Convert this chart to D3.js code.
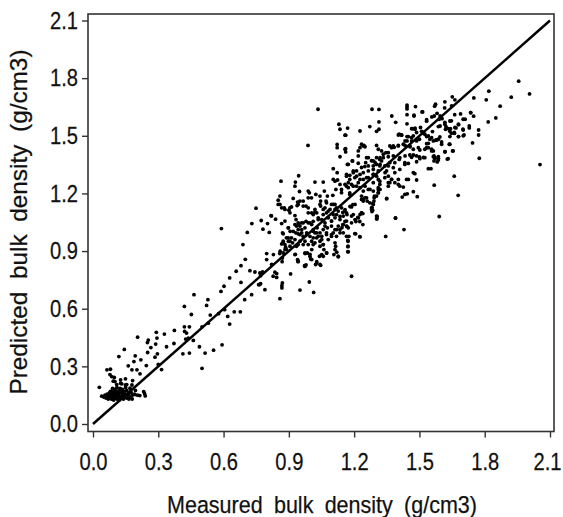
<!DOCTYPE html>
<html>
<head>
<meta charset="utf-8">
<style>
html, body { margin: 0; padding: 0; background: #fff; }
svg { display: block; }
text { font-family: "Liberation Sans", Arial, sans-serif; fill: #111; stroke: #111; stroke-width: 0.25px; }
</style>
<script src="https://cdn.jsdelivr.net/npm/d3@7"></script>
</head>
<body>
<svg id="chart" width="563" height="517"></svg>
<script>
var tickLabels = ['0.0', '0.3', '0.6', '0.9', '1.2', '1.5', '1.8', '2.1'];
var refLine = [0, 2.1];

// measured, predicted, by area of the cloud
var clusterPoints = [[.04,.145],[.05,.14],[.055,.15],[.06,.135],[.065,.155],[.07,.145],[.07,.13],[.075,.16],[.08,.14],[.08,.17],[.085,.15],[.085,.13],[.09,.185],[.09,.16],[.09,.14],[.095,.17],[.095,.125],[.1,.15],[.1,.135],[.1,.18],[.105,.16],[.105,.145],[.11,.19],[.11,.17],[.11,.13],[.115,.155],[.115,.14],[.12,.175],[.12,.16],[.12,.125],[.125,.185],[.125,.145],[.13,.165],[.13,.135],[.135,.15],[.135,.18],[.14,.16],[.14,.13],[.145,.17],[.145,.145],[.15,.19],[.15,.155],[.155,.135],[.155,.175],[.16,.15],[.165,.16],[.165,.13],[.17,.14],[.175,.165],[.18,.15],[.18,.13],[.19,.155],[.195,.175],[.205,.15],[.215,.148],
[.029,.191],[.064,.282],[.08,.285],[.078,.257],[.098,.242],[.093,.223],[.127,.23],[.127,.212],[.149,.235],[.149,.203],[.182,.226],[.179,.203],[.086,.247],[.101,.221],[.109,.205],[.132,.209],[.155,.205],[.17,.186],[.233,.169],[.237,.158],[.24,.146],[.193,.153]];

var lowPoints = [[.119,.351],[.144,.388],[.205,.452],[.162,.303],[.188,.325],[.194,.355],[.179,.282],[.202,.282],[.216,.261],[.22,.334],[.245,.304],[.251,.372],[.25,.424],[.254,.437],[.266,.398],[.288,.416],[.291,.477],[.294,.447],[.285,.348],[.296,.365],[.3,.31],[.315,.283],[.328,.468],[.338,.402],[.374,.487],[.372,.419],[.413,.365],[.443,.369],[.42,.612],[.464,.673],[.452,.57],[.42,.506],[.443,.506],[.421,.482],[.43,.473],[.426,.442],[.438,.447],[.461,.435],[.489,.402],[.501,.29],[.515,.369],[.554,.384],[.593,.412],[.501,.506],[.522,.617],[.528,.647],[.539,.567],[.53,.525],[.588,.69],[.602,.717],[.577,.574],[.605,.595],[.619,.56],[.628,.52],[.649,.584],[.677,.584],[.697,.647],[.729,.673],[.68,.737],[.761,.725],
[.59,1.017],[.628,.76],[.658,.795],[.68,.824],[.7,.857],[.689,.934],[.709,.997],[.73,1.043],[.749,1.123],[.773,1.059],[.781,1.014],[.802,1.043],[.81,.997],[.82,1.083],[.839,1.066],[.721,.798],[.744,.791],[.767,.786],[.779,.791],[.77,.772],[.764,.725],[.77,.73],[.79,.699],[.859,.652],[.836,.79],[.844,.783],[.828,.769],[.844,.763],[.87,.734],[.868,.72],[.868,.708],[.908,.781],[.951,.697],[.994,.739],[1.014,.685],[1.188,.769],[.798,.887],[.798,.856],[.821,.831],[.858,.887],[.869,.845],[.87,.864],[.885,.92],[.867,.937],[.874,.89]];

var midPoints = [[.93,.883],[.94,.856],[.942,.845],[.975,.887],[.985,.89],[.997,.883],[1.0,.859],[.972,.824],[.979,.828],[1.028,.845],[1.023,.83],[1.046,.826],[1.041,.873],[1.058,.873],[1.073,.89],[1.127,.87],[1.173,.896],[1.172,.925],[1.172,.951],[1.165,.977],[1.176,.977],[1.112,.943],[1.115,.925],[1.112,.908],[1.12,.894],[1.107,.882],[1.058,.934],[1.061,.908],[1.043,.925],[.989,.934],[1.005,.908],[.966,.934],[.943,.934],
[.933,1.064],[.943,1.047],[.935,1.03],[.951,1.03],[.959,1.012],[.943,1.012],[.979,1.055],[.997,1.047],[1.012,1.055],[.966,1.047],[1.035,1.073],[1.051,1.064],[1.066,1.047],[1.081,1.073],[1.096,1.056],[1.112,1.073],[1.135,1.064],[1.15,1.082],[1.127,1.03],[1.165,1.099],[1.196,1.09],[.898,1.021],[.906,1.003],[.874,.99],[.889,.969],[.912,.969],[.932,.995],[.951,.986],[.966,.977],[.982,.995],[.997,.977],[1.02,.995],[1.012,1.012],[1.03,1.021],[1.043,.995],[1.058,1.012],[1.077,1.021],[1.096,1.03],[1.112,1.012],[1.135,1.012],[1.15,.995],[1.173,1.021],[1.188,1.047],[1.219,1.073],[1.227,1.09],[1.234,1.099],[.874,.943],[.898,.951],[.917,.943],[.935,.925],[.905,.925],[.889,.908],[.974,.951],[1.005,.951],[1.028,.969],[1.051,.96],[1.012,.934],[1.035,.977],[1.073,.986],[1.096,.977],[1.119,.977],[1.135,.995],[1.119,1.09],[1.104,1.09],[1.073,1.099],[1.089,1.117],[1.058,1.09],[1.028,1.099],[1.005,1.099],[1.188,1.082],[1.165,1.056],[1.204,1.064],[1.15,1.038],[1.104,.995],[1.165,1.03],
[1.227,.974],[1.207,.99],[1.345,.976],[1.39,1.071],[1.303,1.082],[1.305,1.068],[1.429,1.012],[1.203,.991],[1.226,.975],[1.171,.955],[1.171,.923],[1.171,.897],[1.24,1.095],[1.217,1.075],[1.226,1.054],[1.208,1.054],[1.24,1.038],[1.158,1.054],[1.148,1.038],[1.167,1.028],[1.144,1.022],[1.181,1.132],[1.194,1.142],[1.158,1.116],[1.167,1.09],[1.148,1.101],[1.135,1.08],[1.282,1.127],[1.282,1.106],[1.286,1.148],
[.851,1.143],[.867,1.125],[.882,1.117],[.905,1.125],[.905,1.099],[.928,1.085],[.943,1.143],[.966,1.134],[.989,1.099],[1.012,1.09],[1.02,1.103],[1.043,1.143],[1.066,1.125],[1.081,1.108],[1.073,1.151],[1.104,1.143],[.818,1.085],[.882,1.056],[.867,1.043],[.871,.995],[.897,1.021],[.928,1.038],[.943,1.038],[.959,1.047],[.974,1.021],[.989,1.047],[1.005,1.038],[1.035,1.064],[1.066,1.03],[1.096,1.056],[.92,1.003],[.943,.99],[.959,.995],[.982,.986],[1.012,1.003],[1.028,.995],[1.051,.977],[1.073,.995],[1.096,.986],[1.12,1.012],[.874,.951],[.882,.934],[.905,.951],[.897,.969],[.928,.96],[.951,.951],[1.012,.969],[1.02,.943],[1.043,.951],[1.058,.934],[1.081,.96],[.829,.882],[.86,.899],[.882,.908],[.928,.882],[.974,.89],[.997,.873],[1.005,.856],[.943,.847],[1.051,.882],[1.074,.89],[1.028,.838],[1.043,.83],[1.127,.873],[.974,.82]];

var upperPoints = [[1.034,1.638],[.988,1.45],[1.122,1.455],[1.122,1.438],[1.135,1.391],[1.161,1.433],[1.161,1.416],[1.161,1.503],[1.135,1.534],[1.13,1.56],[1.17,1.54],
[.864,1.264],[.945,1.292],[.93,1.259],[.928,1.238],[.949,1.21],[1.02,1.259],[1.058,1.259],[1.104,1.329],[1.122,1.308],[1.104,1.273],[1.112,1.264],[1.124,1.27],[1.173,1.351],[1.191,1.369],[1.219,1.357],[1.253,1.36],[1.165,1.299],[1.18,1.294],[1.196,1.317],[1.173,1.256],[1.165,1.238],[1.188,1.247],[1.211,1.29],[1.227,1.299],[1.135,1.247],[1.116,1.221],[1.142,1.221],[1.18,1.203],[1.211,1.238],
[.851,1.165],[.859,1.186],[.859,1.143],[.879,1.125],[.9,1.113],[.912,1.13],[.92,1.174],[.94,1.155],[.951,1.16],[.966,1.16],[.938,1.137],[.989,1.212],[.994,1.203],[1.004,1.177],[1.024,1.195],[.989,1.177],[1.063,1.212],[1.077,1.186],[1.102,1.19],[1.046,1.16],[1.071,1.16],[1.043,1.186],[.979,1.134],[.989,1.125],[1.02,1.117],[1.046,1.134],[1.058,1.117],[1.096,1.143],[1.112,1.143],[1.119,1.125],[1.142,1.125],[1.112,1.117],[1.127,1.108],[1.158,1.108],[1.188,1.13],[1.204,1.143],[1.242,1.16],[1.234,1.169],[1.257,1.177],[1.28,1.125],[1.285,1.113],[1.293,1.186],[1.291,1.16],[1.311,1.203],[1.311,1.221],[1.35,1.174],
[1.956,1.784],[2.006,1.718],[1.922,1.701],[1.819,1.732],[1.807,1.687],[1.75,1.697],[1.871,1.654],[1.851,1.593],[1.816,1.572],[2.054,1.35],[1.775,1.383],[1.744,1.463],[1.772,1.53],[1.772,1.504],[1.735,1.621],[1.749,1.602],[1.66,1.29],[1.678,1.19],[1.568,1.243],[1.591,1.08],[1.651,1.703],[1.663,1.687],[1.617,1.677],[1.574,1.664],[1.57,1.654],[1.616,1.645],[1.648,1.656],[1.443,1.66],[1.443,1.65],[1.443,1.64],[1.482,1.652],[1.512,1.624],[1.282,1.638],[1.314,1.637],[1.373,1.603],[1.443,1.61],[1.475,1.603],[1.314,1.572],[1.391,1.57],[1.272,1.548],[1.314,1.534],[1.303,1.523],[1.443,1.562],[1.227,1.525],[1.557,1.598],[1.568,1.603],[1.581,1.617],[1.595,1.603],[1.604,1.589],[1.533,1.576],[1.595,1.551],[1.617,1.57],[1.622,1.548],[1.633,1.537],[1.643,1.537],[1.64,1.577],[1.662,1.61],[1.689,1.614],[1.701,1.586],[1.68,1.558],[1.668,1.541],[1.701,1.53],[1.729,1.551],[1.729,1.541],[1.661,1.513],[1.68,1.496],[1.705,1.504],[1.64,1.496],[1.637,1.456],[1.618,1.417],[1.652,1.421],[1.628,1.379],[1.594,1.494],[1.587,1.482],[1.602,1.456],[1.467,1.537],[1.479,1.534],[1.505,1.543],[1.51,1.523],[1.518,1.513],[1.541,1.499],[1.556,1.49],[1.576,1.478],[1.403,1.504],[1.418,1.504],[1.443,1.496],[1.464,1.49],[1.443,1.473],[1.487,1.473],[1.5,1.482],[1.533,1.459],[1.541,1.438],[1.556,1.421],[1.502,1.426],[1.525,1.43],[1.518,1.387],[1.5,1.39],[1.487,1.395],[1.567,1.395],[1.571,1.387],[1.587,1.383],[1.567,1.369],[1.587,1.374],[1.582,1.364],[1.541,1.329],[1.553,1.329],[1.472,1.308],[1.479,1.303],[1.487,1.27],[1.441,1.273],[1.472,1.209],[1.444,1.198],[1.421,1.181],[1.49,1.183],[1.403,1.247],[1.426,1.233],[1.39,1.073],[1.349,1.172],[1.306,1.08],[1.303,1.068],[1.28,1.117],
[1.242,1.447],[1.25,1.443],[1.303,1.45],[1.311,1.43],[1.326,1.421],[1.346,1.412],[1.364,1.447],[1.384,1.44],[1.403,1.447],[1.434,1.45],[1.457,1.443],[1.257,1.386],[1.28,1.37],[1.296,1.361],[1.318,1.377],[1.334,1.386],[1.318,1.343],[1.357,1.391],[1.38,1.395],[1.407,1.377],[1.434,1.395],[1.456,1.4],[1.234,1.335],[1.265,1.343],[1.288,1.325],[1.357,1.343],[1.38,1.334],[1.41,1.325],[1.433,1.351],[1.449,1.356],[1.472,1.4],[1.227,1.273],[1.257,1.282],[1.288,1.299],[1.303,1.29],[1.318,1.264],[1.342,1.308],[1.357,1.29],[1.372,1.273],[1.387,1.256],[1.364,1.256],[1.25,1.238],[1.265,1.221],[1.288,1.212],[1.311,1.23],[1.303,1.186],[1.318,1.247],[1.357,1.238],[1.234,1.186],[1.242,1.165],[1.26,1.16],[1.272,1.151],[1.292,1.177],[1.288,1.143],[1.234,1.099],
[1.158,1.503],[1.407,1.508],[1.418,1.503],[1.449,1.496],[1.234,1.456],[1.245,1.45],[1.227,1.438],[1.219,1.421],[1.219,1.395],[1.158,1.43],[1.169,1.351],[1.193,1.369],[1.265,1.386],[1.288,1.369],[1.303,1.386],[1.319,1.386],[1.326,1.369],[1.303,1.351],[1.319,1.351],[1.288,1.343],[1.334,1.404],[1.357,1.412],[1.372,1.438],[1.38,1.447],[1.403,1.45],[1.426,1.456],[1.434,1.473],[1.196,1.308],[1.211,1.317],[1.242,1.308],[1.249,1.34],[1.265,1.317],[1.288,1.299],[1.311,1.317],[1.341,1.343],[1.349,1.317],[1.364,1.36],[1.387,1.36],[1.41,1.386],[1.433,1.36],[1.165,1.29],[1.18,1.273],[1.203,1.282],[1.219,1.256],[1.242,1.273],[1.265,1.282],[1.288,1.256],[1.311,1.273],[1.341,1.282],[1.357,1.256],[1.372,1.273],[1.387,1.308],[1.403,1.273],[1.449,1.273],[1.41,1.238],[1.433,1.195],[1.158,1.247],[1.173,1.23],[1.196,1.238],[1.227,1.23],[1.242,1.212],[1.142,1.204],[1.18,1.195],[1.273,1.221],[1.319,1.221],[1.311,1.204],[1.249,1.177],
[1.475,1.607],[1.515,1.624],[1.533,1.584],[1.591,1.586],[1.736,1.62],[1.464,1.537],[1.48,1.54],[1.487,1.517],[1.472,1.5],[1.518,1.517],[1.525,1.508],[1.56,1.522],[1.587,1.548],[1.617,1.56],[1.647,1.578],[1.62,1.534],[1.663,1.543],[1.64,1.524],[1.647,1.513],[1.679,1.56],[1.71,1.586],[1.7,1.534],[1.66,1.517],[1.679,1.496],[1.701,1.5],[1.533,1.496],[1.548,1.482],[1.564,1.473],[1.579,1.478],[1.602,1.468],[1.64,1.456],[1.464,1.473],[1.456,1.447],[1.472,1.43],[1.495,1.438],[1.533,1.438],[1.556,1.43],[1.564,1.421],[1.617,1.417],[1.655,1.421],[1.541,1.461],[1.464,1.388],[1.487,1.365],[1.502,1.381],[1.525,1.386],[1.564,1.391],[1.571,1.381],[1.587,1.391],[1.632,1.381]];

var points = clusterPoints.concat(lowPoints, midPoints, upperPoints);

var svg = d3.select('#chart');

var x = d3.scaleLinear().domain([0, 2.1]).range([93, 550]);
var y = d3.scaleLinear().domain([0, 2.1]).range([424, 20.5]);

// frame
var frame = { left: 88, right: 554, top: 14, bottom: 431.5 };
svg.append('rect')
    .attr('x', frame.left)
    .attr('y', frame.top)
    .attr('width', frame.right - frame.left)
    .attr('height', frame.bottom - frame.top)
    .attr('fill', 'none')
    .attr('stroke', '#333')
    .attr('stroke-width', 1.6);

// axes
var fmt = function(d, i) { return tickLabels[i]; };
var tickVals = tickLabels.map(Number);
var squeeze = 0.84; // the reference type is narrower than Liberation

var xAxis = svg.append('g')
    .attr('transform', 'translate(0,' + frame.bottom + ')')
    .call(d3.axisBottom(x).tickValues(tickVals).tickFormat(fmt).tickSize(6).tickSizeOuter(0));
var yAxis = svg.append('g')
    .attr('transform', 'translate(' + frame.left + ',0)')
    .call(d3.axisLeft(y).tickValues(tickVals).tickFormat(fmt).tickSize(6).tickSizeOuter(0));

[xAxis, yAxis].forEach(function(a) {
    a.select('.domain').remove();
    a.selectAll('line').attr('stroke', '#333').attr('stroke-width', 1.4);
    a.selectAll('text')
        .attr('font-size', 24)
        .style('font-family', '"Liberation Sans", Arial, sans-serif');
});
xAxis.selectAll('text')
    .attr('y', 21)
    .attr('dy', '0.71em')
    .attr('transform', 'scale(' + squeeze + ',1)');
// last label sits a little left of its tick, against the page edge
xAxis.selectAll('.tick:last-of-type text').attr('x', -3 / squeeze);
yAxis.selectAll('text')
    .attr('x', -10 / squeeze)
    .attr('transform', 'scale(' + squeeze + ',1)');

// reference line
svg.append('line')
    .attr('x1', x(refLine[0]))
    .attr('y1', y(refLine[0]))
    .attr('x2', x(refLine[1]))
    .attr('y2', y(refLine[1]))
    .attr('stroke', '#000')
    .attr('stroke-width', 2.5);

// dots
svg.append('g').selectAll('circle')
    .data(points)
    .enter()
    .append('circle')
    .attr('cx', function(d) { return x(d[0]); })
    .attr('cy', function(d) { return y(d[1]); })
    .attr('r', 1.9)
    .attr('fill', '#000');

// titles
svg.append('text')
    .attr('x', 322)
    .attr('y', 513)
    .attr('text-anchor', 'middle')
    .attr('font-size', 24.5)
    .attr('textLength', 310)
    .attr('lengthAdjust', 'spacingAndGlyphs')
    .style('word-spacing', '6px')
    .text('Measured bulk density (g/cm3)');

svg.append('text')
    .attr('transform', 'translate(27,222) rotate(-90)')
    .attr('text-anchor', 'middle')
    .attr('font-size', 24.5)
    .attr('textLength', 345)
    .attr('lengthAdjust', 'spacingAndGlyphs')
    .style('word-spacing', '6px')
    .text('Predicted bulk density (g/cm3)');
</script>
</body>
</html>
